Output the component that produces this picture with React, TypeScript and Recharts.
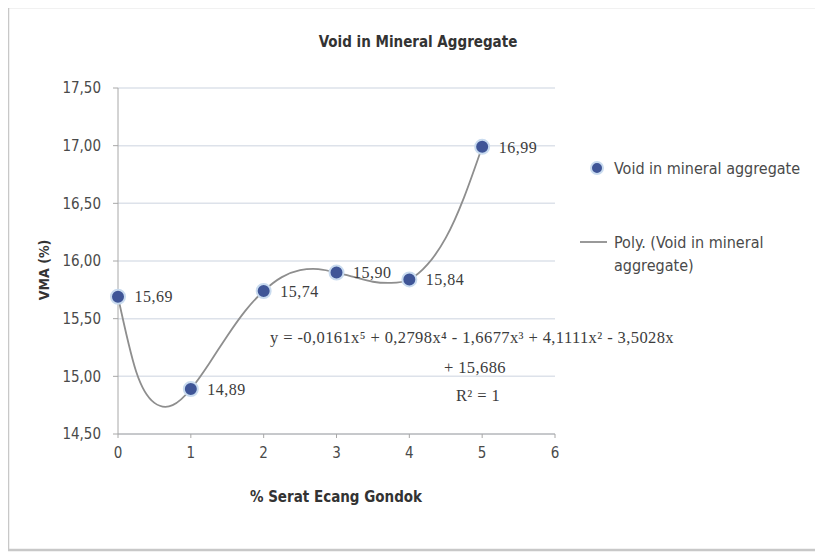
import { ComposedChart, Scatter, Line, XAxis, YAxis, CartesianGrid, LabelList } from "recharts";

// measured VMA per fibre content
const fiberPercent = [0, 1, 2, 3, 4, 5];
const vmaValues = [15.69, 14.89, 15.74, 15.9, 15.84, 16.99];

// poly (order 5) trendline, sampled every 0.25
const trendX = [0, 0.25, 0.5, 0.75, 1, 1.25, 1.5, 1.75, 2, 2.25, 2.5, 2.75, 3, 3.25, 3.5, 3.75, 4, 4.25, 4.5, 4.75, 5];
const trendVma = [15.69, 15.04, 14.77, 14.75, 14.89, 15.11, 15.35, 15.57, 15.74, 15.86, 15.92, 15.93, 15.9, 15.86, 15.82, 15.81, 15.84, 15.97, 16.2, 16.55, 16.99];

const xTicks = [0, 1, 2, 3, 4, 5, 6];
const yTicks = [14.5, 15, 15.5, 16, 16.5, 17, 17.5];

const points = fiberPercent.map((x, i) => ({ x, y: vmaValues[i] }));
const trend = trendX.map((x, i) => ({ x, y: trendVma[i] }));

const W = 823;
const H = 554;
const SANS = "'Liberation Sans Narrow', 'DejaVu Sans Condensed', sans-serif";
const SERIF = "'Liberation Serif', 'DejaVu Serif', serif";
const TEXT = "#4a4a4a";
const DOT = "#3f5597";

const comma = (v: number) => v.toFixed(2).replace(".", ",");

const Dot = (props: any) => {
  const { cx, cy } = props;
  if (cx == null || cy == null) return null;
  return <circle cx={cx} cy={cy} r={7} fill={DOT} stroke="#c9dbef" strokeWidth={2} />;
};

export default function App() {
  return (
    <div style={{ position: "relative", width: W, height: H, margin: "-8px 0 0 -8px" }}>
      <ComposedChart width={W} height={H} margin={{ top: 88, right: 268, bottom: 80, left: 0 }}>
        <CartesianGrid horizontal vertical={false} stroke="#dde2ea" strokeWidth={1.5} />
        <XAxis
          type="number"
          dataKey="x"
          domain={[0, 6]}
          ticks={xTicks}
          interval={0}
          height={40}
          tickSize={4}
          tickMargin={9}
          stroke="#a8a8a8"
          tick={{ fill: TEXT, fontSize: 15, fontFamily: SANS }}
        />
        <YAxis
          type="number"
          dataKey="y"
          domain={[14.5, 17.5]}
          ticks={yTicks}
          interval={0}
          width={118}
          tickSize={5}
          tickMargin={12}
          stroke="#a8a8a8"
          tickFormatter={comma}
          tick={{ fill: TEXT, fontSize: 15, fontFamily: SANS }}
        />
        <Line
          data={trend}
          dataKey="y"
          type="natural"
          stroke="#8e8e8e"
          strokeWidth={1.8}
          dot={false}
          activeDot={false}
          isAnimationActive={false}
        />
        <Scatter data={points} dataKey="y" shape={Dot} isAnimationActive={false}>
          <LabelList
            dataKey="y"
            position="right"
            offset={12}
            formatter={(v: any) => comma(Number(v))}
            style={{ fill: "#3c3c3c", fontSize: 16, fontFamily: SERIF, letterSpacing: 0.5 }}
          />
        </Scatter>
      </ComposedChart>

      <svg width={W} height={H} style={{ position: "absolute", left: 0, top: 0, pointerEvents: "none" }}>
        {/* outer chart frame */}
        <rect x={8} y={7} width={W + 10} height={H - 11} fill="none" stroke="#c8c8c8" strokeWidth={2.5} />

        <text x={418} y={47} textAnchor="middle" fontFamily={SANS} fontWeight="bold" fontSize={15} fill="#333">
          Void in Mineral Aggregate
        </text>
        <text
          x={0}
          y={0}
          transform="translate(49 270) rotate(-90)"
          textAnchor="middle"
          fontFamily={SANS}
          fontWeight="bold"
          fontSize={14}
          fill="#333"
        >
          VMA  (%)
        </text>
        <text x={336} y={502} textAnchor="middle" fontFamily={SANS} fontWeight="bold" fontSize={15} fill="#333">
          % Serat Ecang Gondok
        </text>

        {/* legend */}
        <circle cx={597} cy={168} r={6} fill={DOT} stroke="#c9dbef" strokeWidth={2} />
        <text x={614} y={174} fontFamily={SANS} fontSize={16} fill={TEXT}>
          Void in mineral aggregate
        </text>
        <line x1={580} y1={242} x2={607} y2={242} stroke="#8e8e8e" strokeWidth={1.8} />
        <text x={614} y={248} fontFamily={SANS} fontSize={16} fill={TEXT}>
          Poly. (Void in mineral
        </text>
        <text x={614} y={271} fontFamily={SANS} fontSize={16} fill={TEXT}>
          aggregate)
        </text>

        {/* trendline equation */}
        <text x={472} y={343} textAnchor="middle" fontFamily={SERIF} fontSize={16.5} letterSpacing={0.4} fill="#3c3c3c">
          y = -0,0161x⁵ + 0,2798x⁴ - 1,6677x³ + 4,1111x² - 3,5028x
        </text>
        <text x={475} y={373} textAnchor="middle" fontFamily={SERIF} fontSize={16.5} letterSpacing={0.4} fill="#3c3c3c">
          + 15,686
        </text>
        <text x={478} y={401} textAnchor="middle" fontFamily={SERIF} fontSize={16.5} letterSpacing={0.4} fill="#3c3c3c">
          R² = 1
        </text>
      </svg>
    </div>
  );
}
